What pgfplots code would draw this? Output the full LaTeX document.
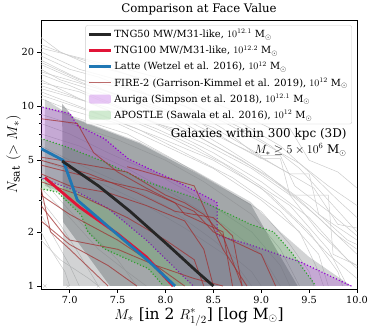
\documentclass[border=0pt]{standalone}
\usepackage{fontspec}
\setmainfont{DejaVu Serif}
\usepackage{pgfplots}
\pgfplotsset{compat=1.18}
\usetikzlibrary{calc}
\definecolor{latte}{RGB}{31,119,180}
\definecolor{tngred}{RGB}{225,20,55}
\definecolor{fire}{RGB}{160,45,45}
\definecolor{auriga}{RGB}{148,0,211}
\definecolor{apostle}{RGB}{44,160,44}
\definecolor{band}{RGB}{125,130,133}
\pgfplotsset{
  arealeg/.style={legend image code/.code={\fill[##1, draw=none] (0bp,-4.5bp) rectangle (22bp,4.5bp);}},
  lineleg/.style={legend image code/.code={\draw[##1] (0bp,0bp) -- (22bp,0bp);}},
  gl/.style={black!20, line width=0.5bp, forget plot},
  fl/.style={fire, opacity=0.7, line width=0.9bp, forget plot},
  dots/.style={line width=1.6bp, line cap=round, dash pattern=on 0bp off 3.2bp, forget plot},
}

\begin{document}
\begin{tikzpicture}
\begin{axis}[name=ax,
  scale only axis, width=316bp, height=269bp,
  xmin=6.7, xmax=10, ymode=log, ymin=0.96, ymax=30,
  axis line style={line width=0.7bp},
  tick align=outside, tick style={black, line width=0.6bp},
  major tick length=3.5bp, minor tick length=2bp,
  xtick={7,7.5,8,8.5,9,9.5,10},
  xticklabels={7.0,7.5,8.0,8.5,9.0,9.5,10.0},
  ytick={1,2,5,10,20}, yticklabels={1,2,5,10,20},
  minor ytick={3,4,6,7,8,9},
  xtick pos=bottom, ytick pos=left,
  ticklabel style={font=\fontsize{9.8}{11}\selectfont},
  title={Comparison at Face Value},
  title style={font=\fontsize{11.8}{13}\selectfont, yshift=-4bp},
  xlabel={$M_*$ [in 2 $R^*_{1/2}$] [log M$_\odot$]},
  ylabel={$N_{\rm sat}\ (>M_*)$},
  label style={font=\fontsize{15.5}{17}\selectfont},
  xlabel style={yshift=3bp},
  ylabel style={yshift=-6bp},
  legend style={at={(0.984,0.981)}, anchor=north east,
    draw=black!20, rounded corners=2pt, fill=white, fill opacity=0.85, text opacity=1,
    font=\fontsize{9.9}{11}\selectfont, row sep=2.6bp, inner sep=2bp},
  legend cell align=left,
]
% legend
\addlegendimage{lineleg, black!85, line width=2.8bp}
\addlegendentry{TNG50 MW/M31-like, $10^{12.1}$ M$_\odot$}
\addlegendimage{lineleg, tngred, line width=2.8bp}
\addlegendentry{TNG100 MW/M31-like, $10^{12.2}$ M$_\odot$}
\addlegendimage{lineleg, latte, line width=2.8bp}
\addlegendentry{Latte (Wetzel et al. 2016), $10^{12}$ M$_\odot$}
\addlegendimage{lineleg, fire, opacity=0.7, line width=0.9bp}
\addlegendentry{FIRE-2 (Garrison-Kimmel et al. 2019), $10^{12}$ M$_\odot$}
\addlegendimage{arealeg, fill=auriga, fill opacity=0.22}
\addlegendentry{Auriga (Simpson et al. 2018), $10^{12.1}$ M$_\odot$}
\addlegendimage{arealeg, fill=apostle, fill opacity=0.22}
\addlegendentry{APOSTLE (Sawala et al. 2016), $10^{12}$ M$_\odot$}

% individual TNG50 hosts
\addplot[gl] coordinates {(6.7,22) (7.0,19) (7.3,17) (7.6,15) (7.9,13) (8.2,11) (8.5,9) (8.8,7.5) (9.1,6) (9.4,4.5) (9.7,3) (10.0,2)};
\addplot[gl] coordinates {(6.7,20) (7.1,16) (7.5,14) (7.9,11) (8.3,8.5) (8.7,6.2) (9.0,5.1) (9.2,5.1) (9.3,3.2) (9.7,3.2) (9.75,1.5) (10,1.3)};
\addplot[gl] coordinates {(6.7,18) (7.0,15) (7.4,12) (7.8,10) (8.2,8) (8.6,6) (9.0,4.4) (9.4,3.0) (9.8,1.9) (10,1.6)};
\addplot[gl] coordinates {(6.7,17) (7.2,13) (7.6,11) (8.0,8.5) (8.4,6.5) (8.8,5) (9.2,3.6) (9.6,2.4) (10,1.5)};
\addplot[gl] coordinates {(6.7,15) (7.0,13) (7.5,10) (8.0,7.5) (8.5,5.5) (9.0,3.8) (9.5,2.4) (9.9,1.4) (10,1.3)};
\addplot[gl] coordinates {(6.7,14) (7.1,11) (7.6,8.5) (8.1,6.5) (8.6,4.8) (9.1,3.2) (9.5,2.0) (9.8,1.2) (9.85,1.0)};
\addplot[gl] coordinates {(6.7,13) (7.0,11.5) (7.4,9.5) (7.9,7.5) (8.3,6) (8.8,4.2) (9.3,2.8) (9.7,1.6) (9.9,1.0)};
\addplot[gl] coordinates {(6.7,12) (7.2,9.5) (7.7,7.5) (8.2,5.5) (8.7,4.0) (9.2,2.6) (9.6,1.5) (9.7,1.0)};
\addplot[gl] coordinates {(6.7,11) (7.0,9.5) (7.5,8) (8.0,6) (8.5,4.5) (9.0,3) (9.4,2) (9.6,1.2) (9.65,1.0)};
\addplot[gl] coordinates {(6.7,16) (6.9,14) (7.3,12) (7.7,10.5) (8.1,9) (8.5,7) (8.9,5.5) (9.3,4.2) (9.5,4.2) (9.6,2.5) (10,1.8)};
\addplot[gl] coordinates {(6.7,19) (7.0,16) (7.3,14.5) (7.7,12) (8.2,10) (8.6,7.5) (8.9,5.6) (9.2,4.5) (9.55,3.5) (9.8,2.2) (10,2.1)};
\addplot[gl] coordinates {(6.7,21) (7.2,18) (7.6,16) (8.0,14) (8.4,11) (8.8,9) (9.1,7.5) (9.3,7.5) (9.5,5.0) (9.8,4.3) (10,3.5)};
\addplot[gl] coordinates {(6.7,10) (7.1,8.5) (7.6,7) (8.1,5) (8.6,3.5) (9.0,2.6) (9.3,1.7) (9.5,1.2) (9.55,1.0)};
\addplot[gl] coordinates {(6.7,9) (7.0,8) (7.5,6.5) (8.0,5) (8.4,3.8) (8.9,2.5) (9.2,1.6) (9.4,1.0)};
\addplot[gl] coordinates {(6.7,24) (6.9,20) (7.2,17) (7.5,15.5) (7.8,14) (8.1,12) (8.4,9.5) (8.8,8) (9.2,6) (9.5,4.3) (9.8,3) (10,2.4)};
\addplot[gl] coordinates {(6.7,13.5) (7.1,12) (7.5,9.8) (7.9,8) (8.3,7) (8.7,5.3) (9.1,4) (9.5,2.8) (9.9,1.8) (10,1.7)};
\addplot[gl] coordinates {(6.7,8) (7.0,7) (7.4,5.5) (7.9,4.2) (8.4,3) (8.9,2) (9.2,1.3) (9.3,1.0)};
\addplot[gl] coordinates {(6.7,7) (7.1,6) (7.6,4.5) (8.1,3.2) (8.6,2.2) (9.0,1.5) (9.2,1.0)};
\addplot[gl] coordinates {(6.7,6) (7.0,5) (7.5,3.8) (8.0,2.8) (8.5,1.8) (8.9,1.2) (9.0,1.0)};
\addplot[gl] coordinates {(6.7,5) (7.2,4) (7.7,3) (8.2,2.1) (8.7,1.4) (8.9,1.0)};
\addplot[gl] coordinates {(6.7,3) (6.9,2.2) (7.1,1.5) (7.3,1.0)};
\addplot[gl] coordinates {(6.7,2.5) (6.85,1.8) (7.0,1.3) (7.1,1.0)};
\addplot[gl] coordinates {(6.7,2.0) (6.8,1.6) (6.95,1.2) (7.0,1.0)};
\addplot[gl] coordinates {(6.7,4) (6.9,3) (7.2,2) (7.5,1.4) (7.7,1.0)};
\addplot[gl] coordinates {(6.7,1.8) (6.9,1.4) (7.2,1.1) (7.3,1.0)};
\addplot[gl] coordinates {(6.7,3.5) (7.0,2.4) (7.3,1.6) (7.6,1.2) (7.8,1.0)};
\addplot[gl] coordinates {(6.7,11.5) (7.3,9) (7.9,6.8) (8.5,5) (9.0,3.5) (9.4,2.2) (9.7,1.5) (10,1.1)};
\addplot[gl] coordinates {(6.7,12.5) (7.2,10.5) (7.8,8.5) (8.4,6.2) (8.9,4.5) (9.3,3.2) (9.6,2.0) (10,1.25)};
\addplot[gl] coordinates {(6.7,15.5) (7.3,12.5) (7.9,10) (8.5,7.6) (9.0,5.3) (9.2,5.3) (9.35,3.6) (9.7,2.6) (10,1.9)};
\addplot[gl] coordinates {(6.7,17.5) (7.1,14) (7.6,12.5) (8.1,10.5) (8.6,8.2) (9.0,6.3) (9.4,4.8) (9.7,3.6) (10,2.8)};
\addplot[only marks, mark=x, mark size=2.2bp, black!25, forget plot] coordinates {(6.74,1) (6.98,1) (7.3,1)};

% TNG100 and TNG50 ranges
\addplot[fill=band, fill opacity=0.35, draw=none, forget plot] coordinates {
 (6.74,10.9) (7.05,8.6) (7.73,6.3) (8.3,4.4) (8.89,2.93) (9.2,2.0) (9.5,1.45) (9.94,1.0)
 (6.93,1.0) (6.93,3.3) (6.74,3.6)} -- cycle;
\addplot[fill=band, fill opacity=0.55, draw=none, forget plot] coordinates {
 (6.92,10.3) (7.05,8.5) (7.73,6.2) (8.3,4.3) (8.89,2.85) (9.1,1.8) (9.38,1.0)
 (7.42,1.0) (6.93,2.27)} -- cycle;

% Auriga
\addplot[fill=auriga, fill opacity=0.2, draw=none, forget plot] coordinates {
 (6.69,9.9) (7.0,9.1) (7.08,7.8) (7.36,6.6) (7.61,5.1) (7.82,4.5) (8.08,3.9) (8.47,3.05) (8.54,2.9)
 (8.54,1.92) (8.89,1.69) (9.41,1.36) (9.94,1.0)
 (8.29,1.0) (7.8,1.8) (7.4,2.7) (7.05,3.4) (6.69,4.0)} -- cycle;
\addplot[auriga, dots] coordinates {
 (6.69,9.9) (7.0,9.1) (7.08,7.8) (7.36,6.6) (7.61,5.1) (7.82,4.5) (8.08,3.9) (8.47,3.05) (8.54,2.9)
 (8.54,1.92) (8.89,1.69) (9.41,1.36) (9.94,1.0)};
\addplot[auriga, dots] coordinates {
 (6.69,4.0) (7.05,3.4) (7.4,2.7) (7.8,1.8) (8.29,1.0)};

% APOSTLE
\addplot[fill=apostle, fill opacity=0.2, draw=none, forget plot] coordinates {
 (6.70,6.6) (6.94,6.0) (7.36,4.9) (7.8,3.8) (8.3,3.1) (8.89,2.2) (9.13,2.0) (9.31,1.55) (9.41,1.31) (9.57,1.0)
 (7.98,1.0) (7.82,1.25) (7.36,1.61) (7.19,2.0) (7.12,2.48) (6.87,3.33) (6.70,3.47)} -- cycle;
\addplot[apostle, dots] coordinates {
 (6.70,6.6) (6.94,6.0) (7.36,4.9) (7.8,3.8) (8.3,3.1) (8.89,2.2) (9.13,2.0) (9.31,1.55) (9.41,1.31) (9.57,1.0)};
\addplot[apostle, dots] coordinates {
 (6.70,3.47) (6.87,3.33) (7.12,2.48) (7.19,2.0) (7.36,1.61) (7.82,1.25) (7.98,1.0)};

% FIRE-2
\addplot[fl] coordinates {(6.7,8.5) (7.08,8.0) (7.25,5.5) (7.5,4.3) (7.8,3.5) (8.1,2.9) (8.2,2.5) (8.6,2.0) (8.7,1.0)};
\addplot[fl] coordinates {(6.7,5.2) (7.0,4.9) (7.6,4.3) (8.0,3.2) (8.2,2.9) (8.4,2.5) (8.6,1.9) (8.8,1.0)};
\addplot[fl] coordinates {(6.7,4.7) (7.3,3.9) (7.8,3.4) (8.3,2.6) (8.5,2.0) (9.0,1.5) (9.15,1.0)};
\addplot[fl] coordinates {(6.7,4.2) (7.0,3.6) (7.4,3.3) (7.8,2.8) (8.2,2.3) (8.4,1.6) (8.5,1.0)};
\addplot[fl] coordinates {(6.7,3.8) (7.1,3.2) (7.6,2.4) (8.0,1.8) (8.3,1.4) (8.4,1.0)};
\addplot[fl] coordinates {(6.7,3.2) (7.0,2.5) (7.5,1.8) (7.9,1.3) (8.2,1.0)};
\addplot[fl] coordinates {(6.7,2.8) (6.95,1.9) (7.0,1.8) (7.5,1.6) (7.9,1.3) (8.3,1.1) (8.6,1.0)};
\addplot[fl] coordinates {(6.7,2.3) (7.0,1.7) (7.4,1.3) (7.7,1.0)};
\addplot[fl] coordinates {(6.7,3.5) (6.8,2.0) (7.0,1.6) (7.4,1.0)};
\addplot[fl] coordinates {(6.7,5.0) (7.2,4.2) (7.7,3.3) (8.1,2.6) (8.5,2.4) (8.7,1.9) (8.8,1.0)};
\addplot[fl] coordinates {(7.6,4.6) (8.0,4.0) (8.3,3.6) (8.45,2.4) (8.6,1.6) (8.85,1.0)};

% medians
\addplot[tngred, line width=2.8bp, forget plot] coordinates {(6.74,4.0) (7.1,2.75) (7.5,1.95) (7.8,1.45) (8.08,1.0)};
\addplot[latte, line width=2.8bp, forget plot] coordinates {(6.70,5.8) (6.93,5.0) (7.08,3.0) (7.49,1.95) (7.84,1.35) (8.1,1.0)};
\addplot[black!85, line width=2.8bp, forget plot] coordinates {(6.92,4.95) (7.3,3.6) (7.63,2.6) (8.02,1.7) (8.33,1.2) (8.5,1.0)};

\node[anchor=east, font=\fontsize{12}{14}\selectfont] at (rel axis cs:0.978,0.576) {Galaxies within 300 kpc (3D)};
\node[anchor=east, font=\fontsize{12}{14}\selectfont] at (rel axis cs:0.978,0.518) {$M_* \geq 5\times10^6$ M$_\odot$};
\end{axis}
\path (ax.south west) ++(-41bp,-44bp) rectangle ($(ax.north east)+(17bp,18bp)$);
\end{tikzpicture}
\end{document}
